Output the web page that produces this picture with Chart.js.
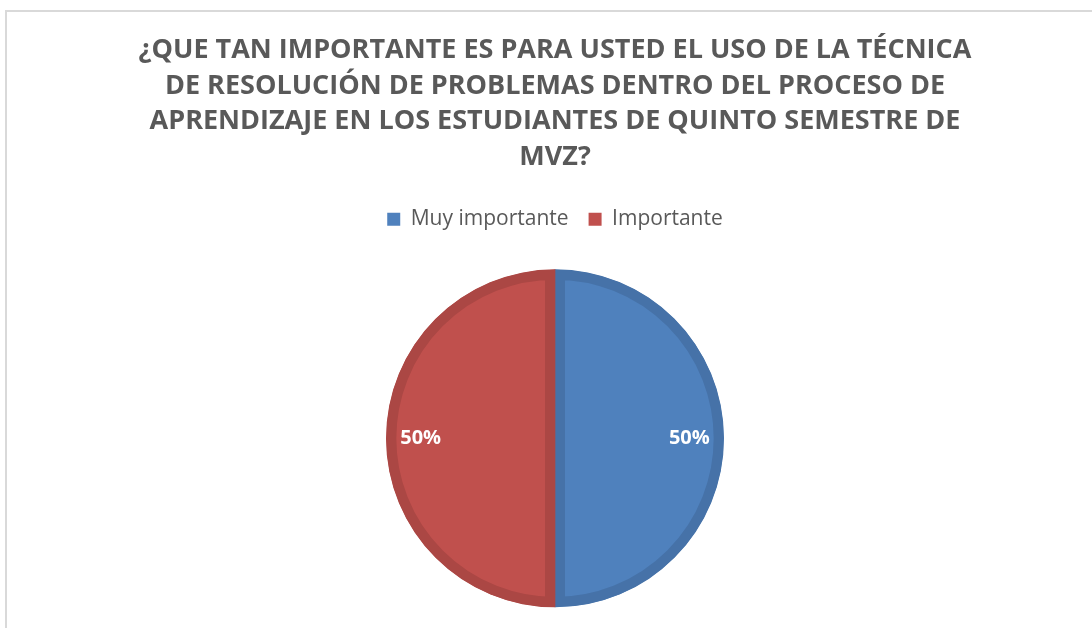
<!DOCTYPE html>
<html>
<head>
<meta charset="utf-8">
<script src="https://cdn.jsdelivr.net/npm/chart.js@4.4.1/dist/chart.umd.min.js"></script>
<style>
  html, body { margin: 0; padding: 0; background: #ffffff; overflow: hidden; }
  #wrap { position: relative; width: 1092px; height: 628px; overflow: hidden; }
  #frame { position: absolute; left: 5px; top: 10px; width: 1200px; height: 800px;
           border-top: 2px solid #d9d9d9; border-left: 2px solid #d9d9d9; box-sizing: border-box; }
  #c { position: absolute; left: 0; top: 0; }
</style>
</head>
<body>
<div id="wrap">
  <div id="frame"></div>
  <canvas id="c" width="1092" height="637"></canvas>
</div>
<script>
const titleLines = [
  "¿QUE TAN IMPORTANTE ES PARA USTED EL USO DE LA TÉCNICA",
  "DE RESOLUCIÓN DE PROBLEMAS DENTRO DEL PROCESO DE",
  "APRENDIZAJE EN LOS ESTUDIANTES DE QUINTO SEMESTRE DE",
  "MVZ?"
];
const categories = ["Muy importante", "Importante"];
const values = [50, 50];
const fillColors = ["#4f81bd", "#c0504d"];
const edgeColors = ["#4672a8", "#ab4744"];

const pctLabels = {
  id: 'pctLabels',
  afterDatasetsDraw(chart) {
    const ctx = chart.ctx;
    const meta = chart.getDatasetMeta(0);
    const total = values.reduce((a, b) => a + b, 0);
    ctx.save();
    ctx.font = "bold 20px 'Open Sans'";
    ctx.fillStyle = "#ffffff";
    ctx.textAlign = "center";
    ctx.textBaseline = "middle";
    meta.data.forEach((arc, i) => {
      const p = arc.getProps(['x', 'y', 'startAngle', 'endAngle', 'outerRadius'], true);
      const mid = (p.startAngle + p.endAngle) / 2;
      const r = p.outerRadius * 0.795;
      const txt = Math.round(values[i] / total * 100) + "%";
      ctx.fillText(txt, p.x + Math.cos(mid) * r, p.y + Math.sin(mid) * r);
    });
    ctx.restore();
  }
};

new Chart(document.getElementById('c'), {
  type: 'pie',
  data: {
    labels: categories,
    datasets: [{
      data: values,
      backgroundColor: fillColors,
      borderColor: edgeColors,
      hoverBackgroundColor: fillColors,
      hoverBorderColor: edgeColors,
      borderWidth: 10,
      hoverBorderWidth: 10,
      borderAlign: 'inner',
      radius: 169
    }]
  },
  options: {
    responsive: false,
    animation: false,
    devicePixelRatio: 1,
    layout: { padding: { left: 18, right: 0, top: 32, bottom: 0 } },
    events: [],
    plugins: {
      title: {
        display: true,
        text: titleLines,
        color: "#595959",
        font: { family: "'Open Sans'", size: 27, weight: 'bold', lineHeight: 1.33 },
        padding: { top: 0, bottom: 13 }
      },
      legend: {
        display: true,
        position: 'top',
        labels: {
          color: "#595959",
          font: { family: "'Open Sans'", size: 21 },
          boxWidth: 13,
          boxHeight: 13,
          padding: 20,
          generateLabels(chart) {
            return categories.map((c, i) => ({
              text: c,
              fillStyle: fillColors[i],
              strokeStyle: fillColors[i],
              lineWidth: 0,
              fontColor: "#595959",
              hidden: false,
              index: i
            }));
          }
        }
      },
      tooltip: { enabled: false }
    }
  },
  plugins: [pctLabels]
});
</script>
</body>
</html>
